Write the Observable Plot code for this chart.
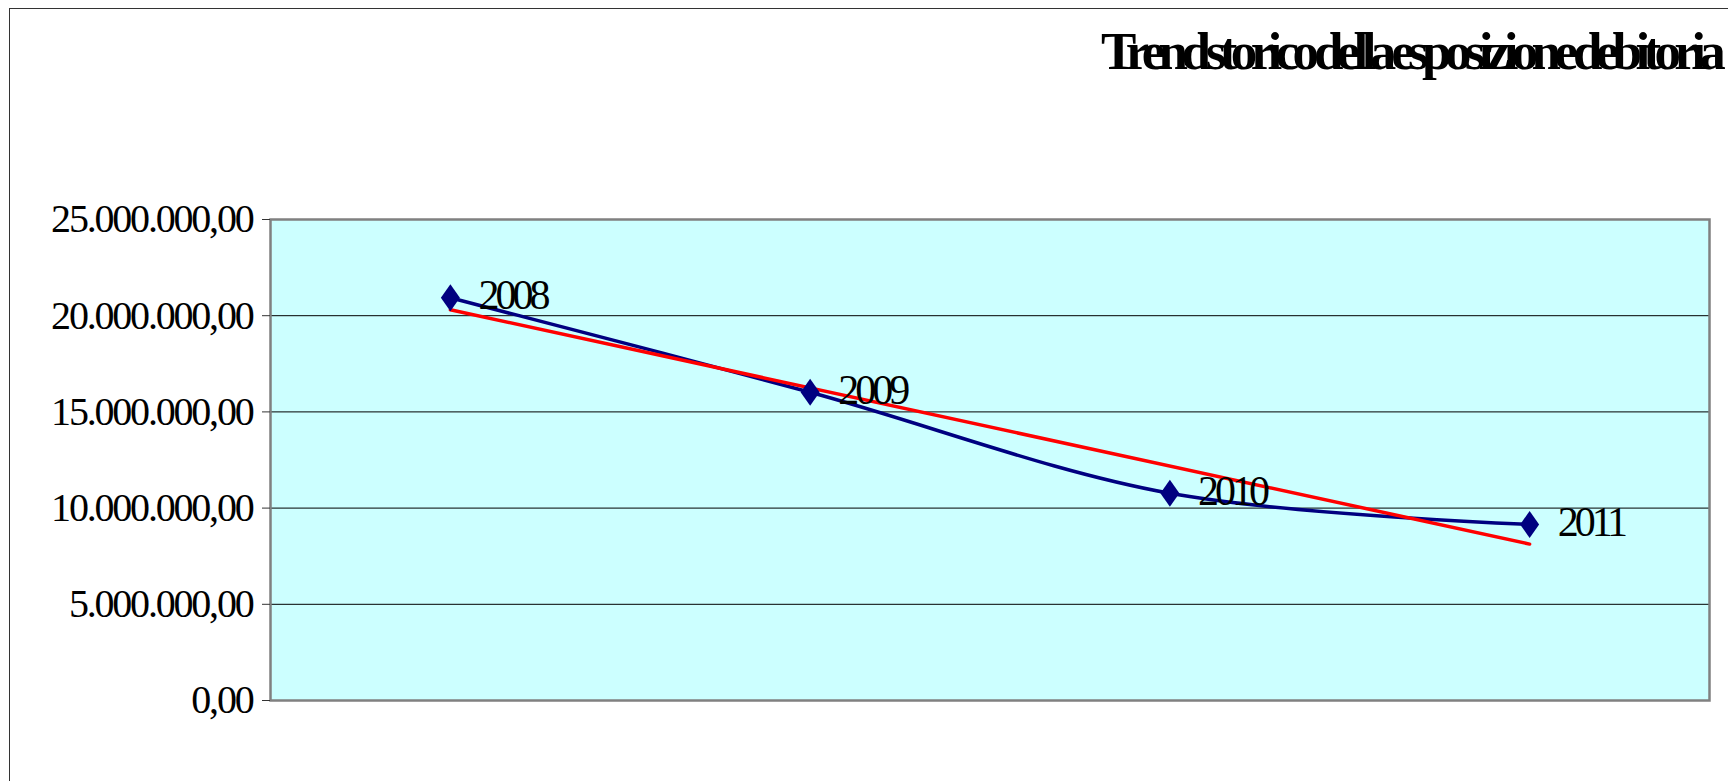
<!DOCTYPE html>
<html>
<head>
<meta charset="utf-8">
<script src="https://cdn.jsdelivr.net/npm/d3@7"></script>
<script src="https://cdn.jsdelivr.net/npm/@observablehq/plot@0.6"></script>
<style>
  html, body { margin: 0; padding: 0; background: #fff; }
  #wrap { position: relative; width: 1728px; height: 781px; overflow: hidden; }
  #chart svg text { letter-spacing: -4px; }
  #chart svg g.yaxis text { letter-spacing: -2.2px; }
  #title {
    position: absolute; left: 1101px; top: 21px; white-space: nowrap;
    font-family: "Liberation Serif", "Times New Roman", serif; font-weight: bold;
    font-size: 53px; line-height: 60px; letter-spacing: -6.65px; word-spacing: -5px; color: #000;
  }
  #border {
    position: absolute; left: 9px; top: 8px; width: 1740px; height: 800px;
    border-left: 1.5px solid #333; border-top: 1.5px solid #333; pointer-events: none;
  }
</style>
</head>
<body>
<div id="wrap">
  <div id="chart"></div>
  <div id="border"></div>
  <div id="title">Trend storico della esposizione debitoria</div>
</div>
<script>
// Data
const years = [2008, 2009, 2010, 2011];
const debt = [20930000, 16020000, 10770000, 9150000];
const yTicks = [0, 5000000, 10000000, 15000000, 20000000, 25000000];
const gridTicks = [5000000, 10000000, 15000000, 20000000];

const data = years.map((y, i) => ({year: y, value: debt[i], label: String(y)}));

const itLocale = d3.formatLocale({decimal: ",", thousands: ".", grouping: [3], currency: ["€", ""]});
const fmt = itLocale.format(",.2f");

const diamond = {
  draw(ctx, size) {
    const s = Math.sqrt(size / Math.PI);
    ctx.moveTo(0, -s * 1.35);
    ctx.lineTo(s * 0.95, 0);
    ctx.lineTo(0, s * 1.35);
    ctx.lineTo(-s * 0.95, 0);
    ctx.closePath();
  }
};

const plot = Plot.plot({
  width: 1728,
  height: 781,
  marginTop: 219,
  marginBottom: 81,
  marginLeft: 270,
  marginRight: 19,
  style: {fontFamily: "'Liberation Serif', 'Times New Roman', serif", fontSize: "40px", background: "transparent", color: "#000"},
  x: {domain: [2007.5, 2011.5], axis: null},
  y: {domain: [0, 25000000], ticks: yTicks, tickFormat: fmt, label: null, tickSize: 8, tickPadding: 10},
  marks: [
    Plot.frame({fill: "#ccffff"}),
    Plot.gridY(gridTicks, {stroke: "#000", strokeOpacity: 1, strokeWidth: 1}),
    Plot.frame({stroke: "#808080", strokeWidth: 2.5}),
    Plot.axisY({ticks: yTicks, tickFormat: fmt, tickSize: 8, tickPadding: 10, label: null, stroke: "#333", fontSize: 40, className: "yaxis"}),
    Plot.line(data, {x: "year", y: "value", stroke: "#000080", strokeWidth: 3.5, curve: "catmull-rom"}),
    Plot.linearRegressionY(data, {x: "year", y: "value", stroke: "#ff0000", strokeWidth: 3.5, ci: 0}),
    Plot.dot(data, {x: "year", y: "value", symbol: diamond, r: 10, fill: "#000080", stroke: "none"}),
    Plot.text(data, {x: "year", y: "value", text: "label", textAnchor: "start", dx: 28, dy: -2, fontSize: 42, fill: "#000"})
  ]
});
document.getElementById("chart").appendChild(plot);
</script>
</body>
</html>
